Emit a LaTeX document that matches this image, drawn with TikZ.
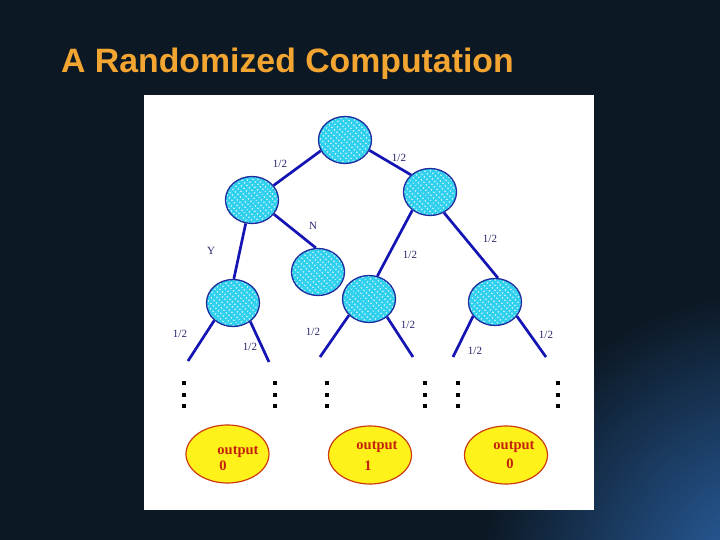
\documentclass[tikz,border=0pt]{standalone}
\usepackage{fontspec}
\setmainfont{Liberation Serif}
\newfontfamily\titlefont{Liberation Sans}
\usetikzlibrary{shapes.geometric,patterns.meta}
\definecolor{bgdark}{HTML}{0C1824}
\definecolor{bgglow}{HTML}{2C66AC}
\definecolor{titleor}{HTML}{F2A531}
\definecolor{cyanfill}{HTML}{2ED0EE}
\definecolor{cyandot}{HTML}{B4EEFA}
\definecolor{nodeline}{HTML}{1E2C9E}
\definecolor{edgeblue}{HTML}{1414B4}
\definecolor{lblnavy}{HTML}{25256E}
\definecolor{outfill}{HTML}{FFF21A}
\definecolor{outline}{HTML}{CC3A10}
\definecolor{outtext}{HTML}{C4200C}
\tikzdeclarepattern{
  name=checkdots,
  type=uncolored,
  bottom left={(0pt,0pt)},
  top right={(4.4pt,4.4pt)},
  tile size={(4.4pt,4.4pt)},
  tile transformation={rotate=45},
  code={\pgfpathrectangle{\pgfpointorigin}{\pgfpoint{2.2pt}{2.2pt}}\pgfusepath{fill}}
}
\tikzset{
  tnode/.style={ellipse, minimum width=53pt, minimum height=47pt, inner sep=0pt,
    draw=nodeline, line width=1.3pt, preaction={fill=cyanfill},
    pattern=checkdots, pattern color=cyandot},
  tedge/.style={draw=edgeblue, line width=2.7pt},
  lbl/.style={text=lblnavy, font=\fontsize{11}{12}\selectfont, inner sep=0pt},
  outbox/.style={ellipse, minimum width=83pt, minimum height=58pt, inner sep=0pt,
    fill=outfill, draw=outline, line width=1.2pt},
  outlbl/.style={text=outtext, font=\bfseries\fontsize{14.5}{15}\selectfont, inner sep=0pt},
  dotsq/.style={fill=black}
}
\begin{document}
\begin{tikzpicture}[x=1pt,y=-1pt]
\useasboundingbox (0,0) rectangle (720,540);
% background
\fill[bgdark] (0,0) rectangle (720,540);
\begin{scope}
  \clip (0,0) rectangle (720,540);
  \shade[inner color=bgglow, outer color=bgdark] (770,580) circle (290);
\end{scope}
% title
\node[anchor=base west, inner sep=0pt, text=titleor,
  font=\titlefont\bfseries\fontsize{33.8}{40}\selectfont] (title) at (61,73) {A Randomized Computation};
% white panel
\fill[white] (144,95) rectangle (594,510);
% tree nodes
\node[tnode] (root) at (345,140) {};
\node[tnode] (l1l) at (252,200) {};
\node[tnode] (l1r) at (430,192) {};
\node[tnode] (nn) at (318,272) {};
\node[tnode] (yy) at (233,303) {};
\node[tnode] (mid) at (369,299) {};
\node[tnode] (rr) at (495,302) {};
% edges
\draw[tedge] (root.204) -- (l1l.34);
\draw[tedge] (root.337) -- (l1r.138);
\draw[tedge] (l1l.255) -- (yy.88);
\draw[tedge] (l1l.327) -- (nn.95);
\draw[tedge] (l1r.226) -- (mid.70);
\draw[tedge] (l1r.304) -- (rr.83);
% free ends of lower branches
\coordinate (ya) at (188,361);
\coordinate (yb) at (269,362);
\coordinate (ma) at (320,357);
\coordinate (mb) at (413,357);
\coordinate (ra) at (453,357);
\coordinate (rb) at (546,357);
\draw[tedge] (yy.223) -- (ya);
\draw[tedge] (yy.313) -- (yb);
\draw[tedge] (mid.219) -- (ma);
\draw[tedge] (mid.315) -- (mb);
\draw[tedge] (rr.213) -- (ra);
\draw[tedge] (rr.327) -- (rb);
% labels
\node[lbl] (p1) at (280,164) {1/2};
\node[lbl] (p2) at (399,158) {1/2};
\node[lbl] (ly) at (211,251) {Y};
\node[lbl] (ln) at (313,226) {N};
\node[lbl] (p3) at (410,255) {1/2};
\node[lbl] (p4) at (490,239) {1/2};
\node[lbl] (p5) at (180,334) {1/2};
\node[lbl] (p6) at (250,347) {1/2};
\node[lbl] (p7) at (313,332) {1/2};
\node[lbl] (p8) at (408,325) {1/2};
\node[lbl] (p9) at (475,351) {1/2};
\node[lbl] (p10) at (546,335) {1/2};
% vertical dots
\foreach \x in {184,275,327,425,458,558}{
  \foreach \y in {383,394.5,406}{
    \fill[dotsq] (\x-2,\y-2) rectangle (\x+2,\y+2);
  }
}
% outputs
\node[outbox] (o1) at (227.5,454) {};
\node[outbox] (o2) at (370,455) {};
\node[outbox] (o3) at (506,455) {};
\node[outlbl] (o1a) at (238,452) {output};
\node[outlbl] (o1b) at (223,466) {0};
\node[outlbl] (o2a) at (377,447) {output};
\node[outlbl] (o2b) at (368,466) {1};
\node[outlbl] (o3a) at (514,447) {output};
\node[outlbl] (o3b) at (510,464) {0};
\end{tikzpicture}
\end{document}
